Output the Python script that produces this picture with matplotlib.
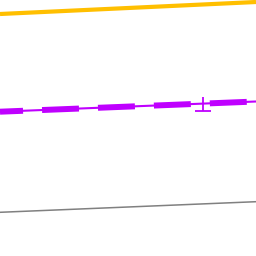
import matplotlib
matplotlib.use("Agg")
import matplotlib.pyplot as plt

plt.rcParams['lines.scale_dashes'] = False

x = [0, 256]
orange = [242.0, 254.0]
purple = [144.3, 154.5]
gray = [43.7, 54.3]
err_x = [203]
err_y = [151.5]
err_lo = [6.0]
err_hi = [7.5]

fig = plt.figure(figsize=(2.56, 2.56), dpi=100)
ax = fig.add_axes([0, 0, 1, 1])
ax.set_xlim(0, 256)
ax.set_ylim(0, 256)
ax.axis('off')

ax.plot(x, orange, color='#ffbf00', lw=3.0, solid_capstyle='butt')
ax.plot(x, gray, color='#808080', lw=1.1)
ax.plot(x, purple, color='#bf00ff', lw=1.5)
ax.plot(x, purple, color='#bf00ff', lw=4.3, linestyle=(10, (26.6, 13.7)), dash_capstyle='butt')
_, caps, _ = ax.errorbar(err_x, err_y, yerr=[err_lo, err_hi], fmt='none', ecolor='#bf00ff',
                         elinewidth=1.3, capsize=6, capthick=1.3)
if len(caps) > 1:
    caps[1].set_visible(False)

fig.savefig('out.png', dpi=100)
